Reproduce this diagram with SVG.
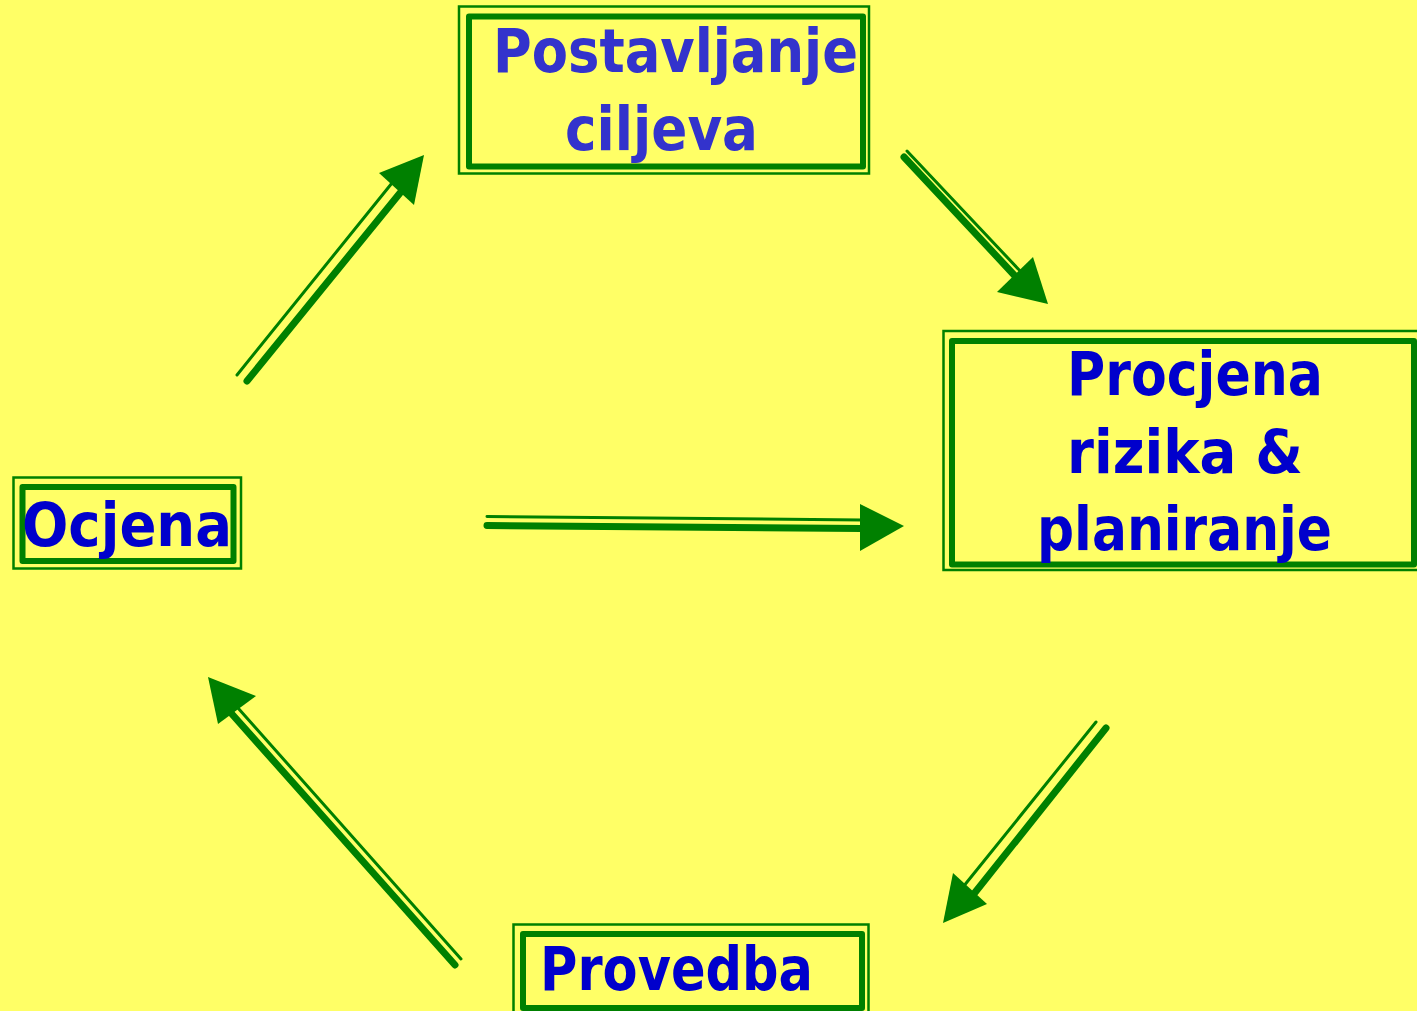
<svg xmlns="http://www.w3.org/2000/svg" width="1417" height="1011" viewBox="0 0 1417 1011">
<style>
.outer{fill:none;stroke:#008000;stroke-width:2.5}
.inner{fill:none;stroke:#008000;stroke-width:6;stroke-linejoin:round}
.t{font-family:"DejaVu Sans","Noto Sans",sans-serif;font-weight:bold;font-size:60px;fill:#0000CC}
.t2{fill:#3333CC}
.thin{stroke:#008000;stroke-width:3;stroke-linecap:round;fill:none}
.thick{stroke:#008000;stroke-width:7;stroke-linecap:round;fill:none}
.head{fill:#008000}
</style>
<rect width="1417" height="1011" fill="#FFFF66"/>
<g id="postavljanje">
<rect class="outer" x="459" y="6.5" width="410" height="167"/>
<rect class="inner" x="469" y="16.5" width="394" height="150"/>
<text class="t t2" x="493" y="72" textLength="365" lengthAdjust="spacingAndGlyphs">Postavljanje</text>
<text class="t t2" x="565" y="150" textLength="193" lengthAdjust="spacingAndGlyphs">ciljeva</text>
</g>
<g id="procjena">
<rect class="outer" x="943.5" y="331" width="490" height="239"/>
<rect class="inner" x="952" y="341" width="462" height="223.5"/>
<text class="t" x="1067" y="395" textLength="256" lengthAdjust="spacingAndGlyphs">Procjena</text>
<text class="t" x="1067" y="473" textLength="236" lengthAdjust="spacingAndGlyphs">rizika &amp;</text>
<text class="t" x="1037" y="550" textLength="295" lengthAdjust="spacingAndGlyphs">planiranje</text>
</g>
<g id="ocjena">
<rect class="outer" x="13.5" y="477.5" width="227.5" height="91"/>
<rect class="inner" x="22.5" y="487" width="211" height="74"/>
<text class="t" x="22" y="546" textLength="210" lengthAdjust="spacingAndGlyphs">Ocjena</text>
</g>
<g id="provedba">
<rect class="outer" x="513.5" y="924.5" width="355" height="100"/>
<rect class="inner" x="523" y="934" width="339" height="74"/>
<text class="t" x="540" y="990" textLength="273" lengthAdjust="spacingAndGlyphs">Provedba</text>
</g>
<g id="connectors">
<line class="thin" x1="237" y1="375" x2="392" y2="183"/>
<line class="thick" x1="247" y1="381" x2="400" y2="193"/>
<polygon class="head" points="424,155 379,173 414,205"/>
<line class="thin" x1="907" y1="151" x2="1022" y2="273"/>
<line class="thick" x1="904" y1="157" x2="1016" y2="277"/>
<polygon class="head" points="1048,304 997,292 1033,257"/>
<line class="thin" x1="487" y1="516.5" x2="862" y2="520"/>
<line class="thick" x1="487" y1="525.5" x2="862" y2="528.5"/>
<polygon class="head" points="860,504 904,526 860,551"/>
<line class="thin" x1="1096" y1="722" x2="963" y2="887"/>
<line class="thick" x1="1106" y1="728" x2="973" y2="895"/>
<polygon class="head" points="943,923 953,873 987,904"/>
<line class="thin" x1="461" y1="959" x2="238" y2="708"/>
<line class="thick" x1="455" y1="965" x2="231" y2="713"/>
<polygon class="head" points="208,677 256,696 218,724"/>
</g>
</svg>
